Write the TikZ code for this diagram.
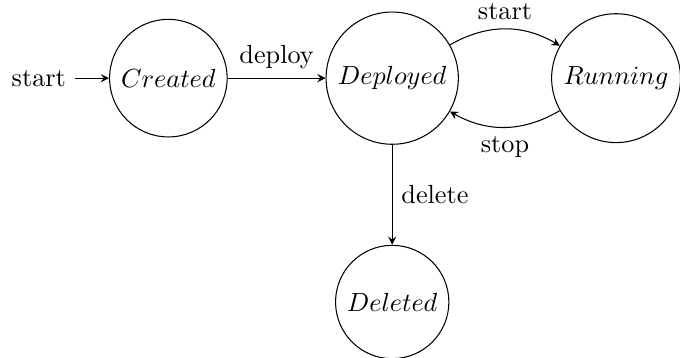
\documentclass[tikz,border=0pt]{standalone}
\usetikzlibrary{automata,positioning,arrows}

\tikzset{every picture/.style={line width=0.4pt}}

\begin{document}
\begin{tikzpicture}[>=stealth, node distance=3cm, on grid, auto]
        \useasboundingbox (-64.2pt,-106.6pt) rectangle (195.1pt,29.8pt);
        \node[state, initial] (created) at (0,0) {$Created$};
        \node[state, right=of created] (deployed) {$Deployed$};
        \node[state, right=of deployed] (running) {$Running$};
        \node[state, below=of deployed] (deleted) {$Deleted$};
        \path[->] (created) edge node {deploy} (deployed)
                  (deployed) edge[bend left] node {start} (running)
                  (running) edge[bend left] node {stop} (deployed)
                  (deployed) edge node {delete} (deleted);
    \end{tikzpicture}
\end{document}
